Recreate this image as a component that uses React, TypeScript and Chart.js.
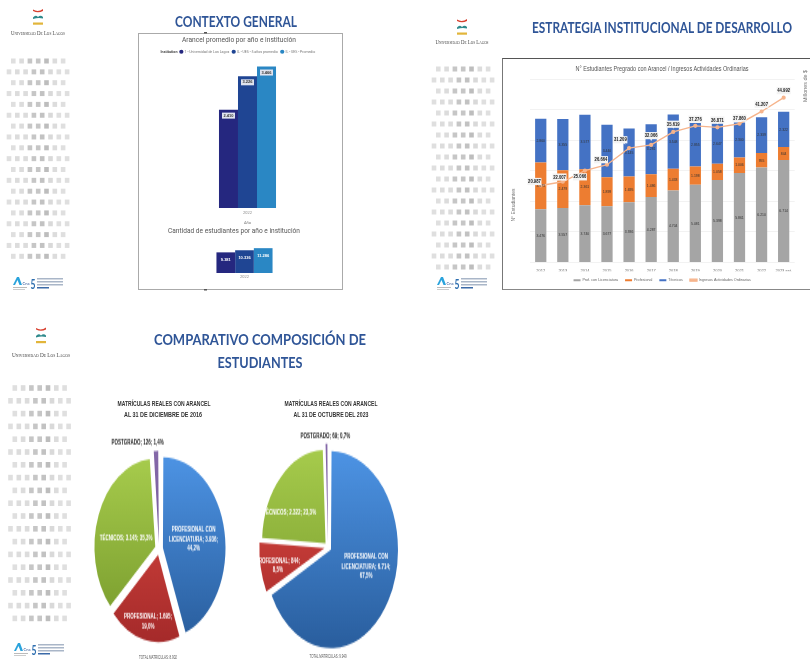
import React, { useEffect, useRef } from "react";
import { Chart, registerables } from "chart.js";

Chart.register(...registerables);

const SANS = '"Liberation Sans", Roboto, sans-serif';

// ---------- data ----------
const tuitionYear = ["2022"];
const tuitionSeries = ["1 - Universidad de Los Lagos", "IL - UES - 5 años promedio", "IL - UES - Promedio"];
const tuitionValues = [2410, 3226, 3466];
const studentValues = [9381, 10336, 11286];
const institutionColors = ["#25277f", "#1f4593", "#2a87c4"];

const years = ["2012", "2013", "2014", "2015", "2016", "2017", "2018", "2019", "2020", "2021", "2022", "2023 est."];
const licenciatura = [3476, 3557, 3740, 3677, 3936, 4287, 4704, 5081, 5398, 5861, 6210, 6714];
const profesional = [3073, 2479, 2361, 1899, 1695, 1486, 1433, 1198, 1058, 1006, 955, 844];
const tecnicos = [2860, 3355, 3577, 3440, 3145, 3281, 3548, 2855, 2647, 2300, 2339, 2322];
const ingresos = [20987, 22007, 25066, 26664, 31209, 32066, 35619, 37276, 36871, 37860, 41207, 44992];
const ingresoLabelOffsets = [[-6.3, -4], [-3.3, -4.7], [-5, 6.3], [-6, -5], [-8.7, -8.3], [0, -9.3], [0, -7.7], [0, -6.7], [0, -7.3], [0, -5.7], [0, -7.3], [0, -7]];

const pieCategories = ["PROFESIONAL CON LICENCIATURA", "PROFESIONAL", "TÉCNICOS", "POSTGRADO"];
const pie2016 = [3936, 1695, 3145, 126];
const pie2023 = [6714, 844, 2322, 69];
const pie2016Labels = [["PROFESIONAL CON", "LICENCIATURA; 3.936;", "44,2%"], ["PROFESIONAL; 1.695;", "19,0%"], ["TÉCNICOS; 3.145; 35,3%"], ["POSTGRADO; 126; 1,4%"]];
const pie2023Labels = [["PROFESIONAL CON", "LICENCIATURA; 6.714;", "67,5%"], ["PROFESIONAL; 844;", "8,5%"], ["TÉCNICOS; 2.322; 23,3%"], ["POSTGRADO; 69; 0,7%"]];
const pie2016Offsets = [[5, -1], [-4, 21], [-5, 4], [-20, -43]];
const pie2023Offsets = [[11, -3], [-19, 6], [-16, -0.5], [-2, -43]];
const pieTop = ["#4c92e2", "#dc4a42", "#a6cb4c", "#8468a8"];
const pieBottom = ["#2a5f9f", "#a52a2a", "#779a2c", "#6a4f90"];

const fmt = (v: number) => String(v).replace(/\B(?=(\d{3})+$)/g, ".");

const squeezed = (c: any, t: string, x: number, y: number, sx: number) => {
  c.save();
  c.translate(x, y);
  c.scale(sx, 1);
  c.fillText(t, 0, 0);
  c.restore();
};

// ---------- plugins ----------
const barValueLabels = (o: { size: number; color: string; bold?: boolean; box?: string; top?: number; sx?: number }) => ({
  id: "barValueLabels",
  afterDatasetsDraw(chart: any) {
    const c = chart.ctx;
    c.save();
    c.font = `${o.bold ? "bold " : ""}${o.size}px ${SANS}`;
    c.textAlign = "center";
    c.textBaseline = "middle";
    chart.data.datasets.forEach((ds: any, i: number) => {
      if (ds.type === "line") return;
      const meta = chart.getDatasetMeta(i);
      meta.data.forEach((bar: any, j: number) => {
        const t = fmt(ds.data[j]);
        const y = o.top != null ? bar.y + o.top : (bar.y + bar.base) / 2;
        if (o.box) {
          c.fillStyle = o.box;
          c.fillRect(bar.x - 6.5, y - 3, 13, 6);
        }
        c.fillStyle = o.color;
        squeezed(c, t, bar.x, y, o.sx ?? 1);
      });
    });
    c.restore();
  },
});

const lineLabels = {
  id: "lineLabels",
  afterDatasetsDraw(chart: any) {
    const c = chart.ctx;
    const idx = chart.data.datasets.findIndex((d: any) => d.type === "line");
    const meta = chart.getDatasetMeta(idx);
    c.save();
    c.font = `bold 5.8px ${SANS}`;
    c.textAlign = "center";
    c.textBaseline = "middle";
    meta.data.forEach((p: any, j: number) => {
      const [dx, dy] = ingresoLabelOffsets[j];
      const x = p.x + dx;
      const y = p.y + dy;
      c.fillStyle = "#ffffff";
      c.beginPath();
      c.moveTo(x - 2, y);
      c.lineTo(x + 2, y);
      c.lineTo(x - dx * 0.6, y - dy * 0.6);
      c.closePath();
      c.fill();
      c.fillStyle = "#f3f3f3";
      c.fillRect(x - 7, y - 3.6, 14, 7.2);
      c.fillStyle = "#1a1a1a";
      squeezed(c, fmt(ingresos[j]), x, y, 0.72);
    });
    c.restore();
  },
};

const pieLabels = (lines: string[][], offsets: number[][]) => ({
  id: "pieLabels",
  afterDatasetsDraw(chart: any) {
    const c = chart.ctx;
    const meta = chart.getDatasetMeta(0);
    c.save();
    c.textAlign = "center";
    c.textBaseline = "middle";
    meta.data.forEach((arc: any, i: number) => {
      const mid = (arc.startAngle + arc.endAngle) / 2;
      const x = arc.x + Math.cos(mid) * arc.outerRadius * 0.5 + offsets[i][0];
      const y = arc.y + Math.sin(mid) * arc.outerRadius * 0.5 + offsets[i][1];
      c.font = `bold 4.5px ${SANS}`;
      c.fillStyle = i === 3 ? "#222222" : "#ffffff";
      lines[i].forEach((l, k) => c.fillText(l, x, y + (k - (lines[i].length - 1) / 2) * 6.4));
    });
    c.restore();
  },
});

// ---------- chart configs ----------
const fixH = (h: number) => (s: any) => { s.height = h; };
const fixW = (w: number) => (s: any) => { s.width = w; };

const tuitionConfig = () => ({
  type: "bar",
  data: {
    labels: tuitionYear,
    datasets: tuitionSeries.map((label, i) => ({ label, data: [tuitionValues[i]], backgroundColor: institutionColors[i], barPercentage: 1, categoryPercentage: 0.305 })),
  },
  options: {
    animation: false, responsive: false, events: [],
    layout: { padding: 0 },
    plugins: {
      tooltip: { enabled: false },
      legend: { position: "top", labels: { font: { size: 3.5, family: "Roboto" }, color: "#777", usePointStyle: true, boxWidth: 3, boxHeight: 3, padding: 3 } },
    },
    scales: {
      x: { afterFit: fixH(17), grid: { display: false, drawTicks: false }, border: { display: false }, ticks: { font: { size: 4, family: "Roboto" }, color: "#888", padding: 3 }, title: { display: true, text: "Año", color: "#777", font: { size: 4, family: "Roboto" }, padding: 0 } },
      y: { min: 0, max: 3540, afterFit: fixW(0), grid: { display: false }, border: { display: false }, ticks: { display: false } },
    },
  },
  plugins: [barValueLabels({ size: 4, color: "#333", box: "#dfe3ee", bold: true, top: 6 })],
});

const studentConfig = () => ({
  type: "bar",
  data: {
    labels: tuitionYear,
    datasets: tuitionSeries.map((label, i) => ({ label, data: [studentValues[i]], backgroundColor: institutionColors[i], barPercentage: 1, categoryPercentage: 0.3 })),
  },
  options: {
    animation: false, responsive: false, events: [],
    layout: { padding: 0 },
    plugins: { tooltip: { enabled: false }, legend: { display: false } },
    scales: {
      x: { afterFit: fixH(12), grid: { display: false, drawTicks: false }, border: { display: false }, ticks: { font: { size: 4, family: "Roboto" }, color: "#888", padding: 2 } },
      y: { min: 0, max: 15000, afterFit: fixW(0), grid: { display: false }, border: { display: false }, ticks: { display: false } },
    },
  },
  plugins: [barValueLabels({ size: 4, color: "#ffffff", bold: true, top: 8 })],
});

const stackedConfig = () => ({
  type: "bar",
  data: {
    labels: years,
    datasets: [
      { label: "Prof. con Licenciatura", data: licenciatura, backgroundColor: "#a5a5a5", stack: "s", order: 2, barPercentage: 0.51, categoryPercentage: 1 },
      { label: "Profesional", data: profesional, backgroundColor: "#ed7d31", stack: "s", order: 2, barPercentage: 0.51, categoryPercentage: 1 },
      { label: "Técnicos", data: tecnicos, backgroundColor: "#4472c4", stack: "s", order: 2, barPercentage: 0.51, categoryPercentage: 1 },
      { type: "line", label: "Ingresos Actividades Ordinarias", data: ingresos, yAxisID: "y1", order: 0, borderColor: "#f6b48c", backgroundColor: "#f6b48c", borderWidth: 1.4, pointRadius: 1.4, pointBackgroundColor: "#f6b48c", tension: 0 },
    ],
  },
  options: {
    animation: false, responsive: false, events: [],
    layout: { padding: { left: 26.7, right: 26.3, top: 21.3, bottom: -3 } },
    plugins: {
      tooltip: { enabled: false },
      legend: { position: "bottom", labels: { sort: (a: any, b: any) => a.datasetIndex - b.datasetIndex, font: { size: 3.7, family: SANS }, color: "#666", boxWidth: 7, boxHeight: 2, padding: 7 } },
    },
    scales: {
      x: { stacked: true, afterFit: fixH(9), grid: { display: false, drawTicks: false }, border: { display: false }, ticks: { autoSkip: false, maxRotation: 0, font: { size: 4, family: SANS }, color: "#666", padding: 6 } },
      y: { stacked: true, min: 0, max: 12000, afterFit: fixW(0), grid: { color: "#efefef", lineWidth: 0.8, drawTicks: false }, border: { display: false }, ticks: { display: false, stepSize: 2000 } },
      y1: { display: false, min: 0, max: 50000, position: "right" },
    },
  },
  plugins: [barValueLabels({ size: 4.4, color: "#333", sx: 0.78 }), lineLabels],
});

const pieConfig = (values: number[], radius: number, offset: number, lines: string[][], offsets: number[][]) => ({
  type: "pie",
  data: {
    labels: pieCategories,
    datasets: [{
      data: values,
      radius,
      offset,
      borderWidth: 0,
      backgroundColor: (ctx: any) => {
        const i = ctx.dataIndex;
        const g = ctx.chart.ctx.createLinearGradient(0, 85 - radius, 0, 85 + radius);
        g.addColorStop(0, pieTop[i]);
        g.addColorStop(1, pieBottom[i]);
        return g;
      },
    }],
  },
  options: {
    animation: false, responsive: false, events: [],
    layout: { padding: 0 },
    plugins: { tooltip: { enabled: false }, legend: { display: false } },
  },
  plugins: [pieLabels(lines, offsets)],
});

// ---------- components ----------
function ChartBox({ x, y, w, h, make, stretch }: any) {
  const ref = useRef<HTMLCanvasElement>(null);
  useEffect(() => {
    const chart = new Chart(ref.current as any, make());
    return () => chart.destroy();
  }, []);
  return (
    <canvas ref={ref} width={w} height={h}
      style={{ position: "absolute", left: x, top: y, width: w, height: h, transform: stretch ? `scaleY(${stretch})` : undefined }} />
  );
}

function T({ x, y, w, size, color = "#333", bold, text, family = "Lato", rotate, small }: any) {
  return (
    <text x={x} y={y} textLength={w} lengthAdjust="spacingAndGlyphs" textAnchor="middle" dominantBaseline="central"
      fontFamily={family} fontSize={size} fill={color} fontWeight={bold ? 700 : 400}
      fontVariant={small ? "small-caps" : undefined}
      transform={rotate ? `rotate(${rotate} ${x} ${y})` : undefined}>{text}</text>
  );
}

function Dots({ xOff, y0, rowH, rows, dotH }: any) {
  const out: any[] = [];
  const odd = [0.38, 0.42, 0.68, 0.68, 0.78, 0.42, 0.38];
  const even = [0.38, 0.42, 0.42, 0.68, 0.72, 0.45, 0.38, 0.38];
  for (let r = 0; r < rows; r++) {
    const arr = r % 2 === 0 ? odd : even;
    const start = r % 2 === 0 ? 13.3 : 9;
    arr.forEach((op, c) => {
      out.push(<rect key={`${r}-${c}`} x={xOff + start + c * 8.3 - 2.3} y={y0 + r * rowH - dotH / 2} width={4.6} height={dotH} fill="#ababab" opacity={op} />);
    });
  }
  return <g>{out}</g>;
}

function Crest({ cx, y, textY, w }: any) {
  return (
    <g>
      <path d={`M${cx - 5} ${y - 1} Q${cx} ${y + 2} ${cx + 5} ${y - 1.5} L${cx + 5} ${y + 0.5} Q${cx} ${y + 3} ${cx - 5} ${y + 0.5} Z`} fill="#d8402f" />
      <path d={`M${cx - 5} ${y + 7} Q${cx - 2.5} ${y + 4} ${cx} ${y + 6.5} Q${cx + 2.5} ${y + 4} ${cx + 5} ${y + 6.5} L${cx + 5} ${y + 8} Q${cx} ${y + 7} ${cx - 5} ${y + 8.5} Z`} fill="#2f8a8c" />
      <rect x={cx - 5} y={y + 12} width={10} height={2.2} fill="#e2b53a" />
      <T x={cx} y={textY} w={w} size={7} color="#444" family="Liberation Serif" small text="Universidad De Los Lagos" />
    </g>
  );
}

function Accredit({ x, y }: any) {
  const rows = [0, 3, 6, 9];
  return (
    <g>
      <path d={`M${x} ${y + 8} L${x + 4} ${y} L${x + 6} ${y} L${x + 9} ${y + 8} L${x + 6.5} ${y + 8} L${x + 4.5} ${y + 3} L${x + 2} ${y + 8} Z`} fill="#2aa3dc" />
      <T x={x + 13} y={y + 6} w={7} size={4} color="#2f5597" text="Cna" />
      <rect x={x} y={y + 10} width={14} height={1} fill="#bbb" />
      <rect x={x} y={y + 12} width={12} height={1} fill="#ccc" />
      <T x={x + 20} y={y + 6.5} w={5} size={14} color="#2f6fb0" bold text="5" />
      {rows.map((r, i) => (
        <rect key={i} x={x + 24} y={y + 1 + r} width={i === 3 ? 12 : 26} height={1.5} fill={i === 3 ? "#3b6aa8" : "#a9b6c8"} />
      ))}
    </g>
  );
}

export default function App() {
  return (
    <div style={{ position: "fixed", left: 0, top: 0, width: 810, height: 662, overflow: "hidden", background: "#fff", filter: "blur(0.45px)" }}>
      {/* frames */}
      <div style={{ position: "absolute", left: 138, top: 33, width: 205, height: 257, border: "1px solid #aaaaaa", boxSizing: "border-box" }} />
      <div style={{ position: "absolute", left: 502, top: 58, width: 320, height: 232, borderTop: "1px solid #555", borderLeft: "1px solid #777", borderBottom: "1px solid #888", boxSizing: "border-box" }} />

      <ChartBox x={154} y={47} w={187} h={178} make={tuitionConfig} />
      <ChartBox x={151} y={240} w={187} h={45} make={studentConfig} />
      <ChartBox x={503} y={58} w={318} h={231} make={stackedConfig} />
      <ChartBox x={74} y={464} w={170} h={170} stretch={1.45} make={() => pieConfig(pie2016, 60, 16, pie2016Labels, pie2016Offsets)} />
      <ChartBox x={243} y={462} w={170} h={170} stretch={1.47} make={() => pieConfig(pie2023, 63.5, 14, pie2023Labels, pie2023Offsets)} />

      <svg width={810} height={662} style={{ position: "absolute", left: 0, top: 0, pointerEvents: "none" }}>
        {/* slide headings */}
        <T x={236} y={20.5} w={122} size={16} color="#2f5597" bold text="CONTEXTO GENERAL" />
        <T x={662} y={27} w={260} size={15} color="#2f5597" bold text="ESTRATEGIA INSTITUCIONAL DE DESARROLLO" />
        <T x={260} y={339} w={212} size={15} color="#2f5597" bold text="COMPARATIVO COMPOSICIÓN DE" />
        <T x={260} y={362} w={85} size={15} color="#2f5597" bold text="ESTUDIANTES" />

        {/* chart titles */}
        <T x={239} y={39} w={114} size={7.5} color="#555" family="Roboto" text="Arancel promedio por año e institución" />
        <T x={169} y={51} w={17} size={4} color="#444" family="Roboto" bold text="Institution" />
        <T x={234} y={230} w={132} size={7.5} color="#555" family="Roboto" text="Cantidad de estudiantes por año e institución" />
        <T x={662} y={68.5} w={173} size={6.5} color="#555" family={SANS} text="N° Estudiantes Pregrado con Arancel / Ingresos Actividades Ordinarias" />
        <T x={513} y={205} w={33} size={5} color="#777" family={SANS} rotate={-90} text="N° Estudiantes" />
        <T x={805} y={86} w={32} size={5} color="#777" family={SANS} rotate={-90} text="Millones de $" />
        <rect x={204} y={32} width={3} height={1.5} fill="#555" />
        <rect x={204} y={289} width={3} height={1.5} fill="#555" />

        {/* pie titles */}
        <T x={164} y={403} w={93} size={6.5} color="#333" family={SANS} bold text="MATRÍCULAS  REALES CON ARANCEL" />
        <T x={163} y={414} w={78} size={6.5} color="#333" family={SANS} bold text="AL  31 DE DICIEMBRE DE 2016" />
        <T x={331} y={403} w={93} size={6.5} color="#333" family={SANS} bold text="MATRÍCULAS REALES CON ARANCEL" />
        <T x={331} y={414} w={75} size={6.5} color="#333" family={SANS} bold text="AL 31 DE OCTUBRE DEL 2023" />
        <T x={158} y={657} w={38} size={4.5} color="#555" family={SANS} text="TOTAL MATRICULAS: 8.902" />
        <T x={328} y={656} w={37} size={4.5} color="#555" family={SANS} text="TOTAL MATRICULAS: 9.949" />

        {/* side decoration */}
        <Dots xOff={0} y0={61} rowH={10.85} rows={19} dotH={5} />
        <Dots xOff={425} y0={69} rowH={11} rows={19} dotH={5} />
        <Dots xOff={1.5} y0={388} rowH={12.8} rows={19} dotH={5.6} />
        <Crest cx={38} y={10.5} textY={33} w={54} />
        <Crest cx={462} y={20.5} textY={42} w={53} />
        <Crest cx={41} y={329} textY={355} w={58} />
        <Accredit x={13} y={277} />
        <Accredit x={437} y={277} />
        <Accredit x={14} y={643} />
      </svg>
    </div>
  );
}
